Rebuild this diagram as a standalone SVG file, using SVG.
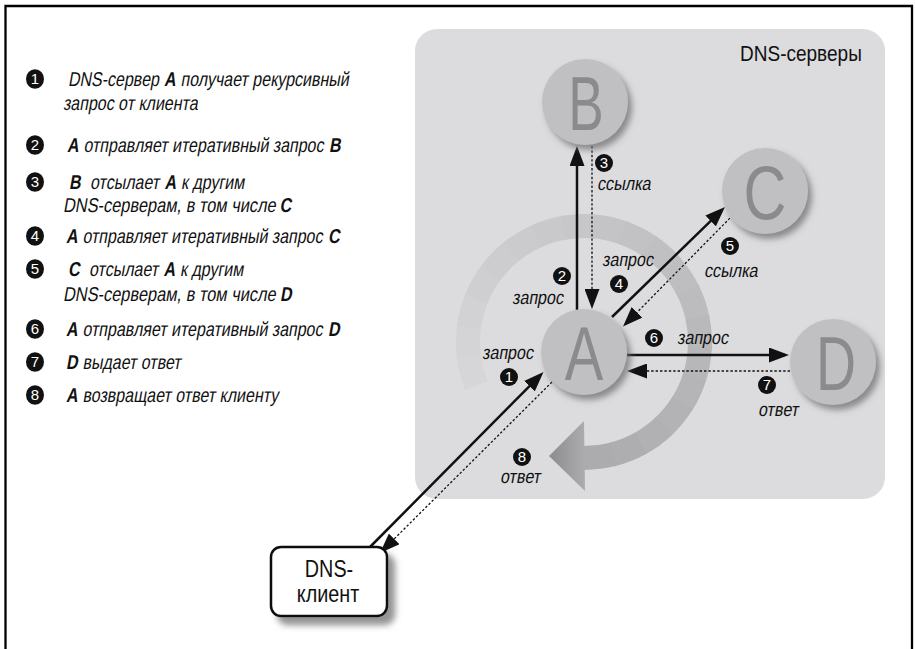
<svg xmlns="http://www.w3.org/2000/svg" width="915" height="649" viewBox="0 0 915 649">
  <style>
    .t { font-family: "Liberation Sans", Arial, sans-serif; fill: #111; }
    .li { font-size: 20px; }
    .lb { font-size: 19px; }
    .b { font-weight: bold; }
    .num { font-family: "Liberation Sans", Arial, sans-serif; font-size: 15px; fill: #fff; text-anchor: middle; }
    .badge { fill: #111; }
    .big { font-family: "Liberation Sans", Arial, sans-serif; font-size: 76px; fill: #8b8b8d; text-anchor: middle; }
    .node { fill: #c0c0c2; }
    .solid { stroke: #111; stroke-width: 2.5; fill: none; }
    .dot { stroke: #111; stroke-width: 1.3; stroke-dasharray: 2.4 2; fill: none; }
    .ring { fill: none; stroke-width: 24; }
  </style>
  <defs>
    <marker id="head" markerUnits="userSpaceOnUse" markerWidth="20" markerHeight="15" refX="16" refY="7.5" orient="auto">
      <path d="M0,0 L20,7.5 L0,15 Z" fill="#111"/>
    </marker>
    <filter id="nodeShadow" x="-30%" y="-30%" width="170%" height="170%">
      <feGaussianBlur in="SourceAlpha" stdDeviation="3"/>
      <feOffset dx="4" dy="5" result="off"/>
      <feFlood flood-color="#6e6e70" flood-opacity="0.75"/>
      <feComposite in2="off" operator="in"/>
      <feMerge><feMergeNode/><feMergeNode in="SourceGraphic"/></feMerge>
    </filter>
    <filter id="boxShadow" x="-20%" y="-20%" width="150%" height="160%">
      <feGaussianBlur in="SourceAlpha" stdDeviation="3"/>
      <feOffset dx="7" dy="8" result="off"/>
      <feFlood flood-color="#7a7a7a" flood-opacity="0.8"/>
      <feComposite in2="off" operator="in"/>
      <feMerge><feMergeNode/><feMergeNode in="SourceGraphic"/></feMerge>
    </filter>
    <linearGradient id="headGrad" x1="549" y1="0" x2="586" y2="0" gradientUnits="userSpaceOnUse">
      <stop offset="0" stop-color="#8c8c8e"/>
      <stop offset="1" stop-color="#adadaf"/>
    </linearGradient>
  </defs>

  <!-- page frame (open at the bottom) -->
  <path d="M5.5,649 V6 H912 V649" fill="none" stroke="#000" stroke-width="2.3"/>

  <!-- legend: numbered steps; oblique condensed runs (upright glyphs, skewed and narrowed) -->
  <g id="legend">
    <g id="step1">
      <ellipse class="badge" cx="35" cy="79" rx="9" ry="9.8"/><text class="num" x="35" y="84.3">1</text>
      <text class="t li" transform="translate(68,86) skewX(-10) scale(0.8,1)">DNS-сервер</text>
      <text class="t li b" transform="translate(164,86) skewX(-10) scale(0.8,1)">A</text>
      <text class="t li" transform="translate(180.5,86) skewX(-10) scale(0.8,1)">получает рекурсивный</text>
      <text class="t li" transform="translate(63,110) skewX(-10) scale(0.8,1)">запрос от клиента</text>
    </g>
    <g id="step2">
      <ellipse class="badge" cx="35" cy="145" rx="9" ry="9.8"/><text class="num" x="35" y="150.3">2</text>
      <text class="t li b" transform="translate(67,152) skewX(-10) scale(0.8,1)">A</text>
      <text class="t li" transform="translate(83.5,152) skewX(-10) scale(0.8,1)">отправляет итеративный запрос</text>
      <text class="t li b" transform="translate(329,152) skewX(-10) scale(0.8,1)">B</text>
    </g>
    <g id="step3">
      <ellipse class="badge" cx="35" cy="182" rx="9" ry="9.8"/><text class="num" x="35" y="187.3">3</text>
      <text class="t li b" transform="translate(69,189) skewX(-10) scale(0.8,1)">B</text>
      <text class="t li" transform="translate(90,189) skewX(-10) scale(0.8,1)">отсылает</text>
      <text class="t li b" transform="translate(164.5,189) skewX(-10) scale(0.8,1)">A</text>
      <text class="t li" transform="translate(181,189) skewX(-10) scale(0.8,1)">к другим</text>
      <text class="t li" transform="translate(63,212) skewX(-10) scale(0.82,1)">DNS-серверам, в том числе</text>
      <text class="t li b" transform="translate(279.5,212) skewX(-10) scale(0.8,1)">C</text>
    </g>
    <g id="step4">
      <ellipse class="badge" cx="35" cy="236" rx="9" ry="9.8"/><text class="num" x="35" y="241.3">4</text>
      <text class="t li b" transform="translate(66,243) skewX(-10) scale(0.8,1)">A</text>
      <text class="t li" transform="translate(82.5,243) skewX(-10) scale(0.8,1)">отправляет итеративный запрос</text>
      <text class="t li b" transform="translate(328,243) skewX(-10) scale(0.8,1)">C</text>
    </g>
    <g id="step5">
      <ellipse class="badge" cx="35" cy="269" rx="9" ry="9.8"/><text class="num" x="35" y="274.3">5</text>
      <text class="t li b" transform="translate(68,276) skewX(-10) scale(0.8,1)">C</text>
      <text class="t li" transform="translate(89,276) skewX(-10) scale(0.8,1)">отсылает</text>
      <text class="t li b" transform="translate(163.5,276) skewX(-10) scale(0.8,1)">A</text>
      <text class="t li" transform="translate(180,276) skewX(-10) scale(0.8,1)">к другим</text>
      <text class="t li" transform="translate(63,301) skewX(-10) scale(0.82,1)">DNS-серверам, в том числе</text>
      <text class="t li b" transform="translate(280,301) skewX(-10) scale(0.8,1)">D</text>
    </g>
    <g id="step6">
      <ellipse class="badge" cx="35" cy="329" rx="9" ry="9.8"/><text class="num" x="35" y="334.3">6</text>
      <text class="t li b" transform="translate(66,336) skewX(-10) scale(0.8,1)">A</text>
      <text class="t li" transform="translate(82.5,336) skewX(-10) scale(0.8,1)">отправляет итеративный запрос</text>
      <text class="t li b" transform="translate(328,336) skewX(-10) scale(0.8,1)">D</text>
    </g>
    <g id="step7">
      <ellipse class="badge" cx="35" cy="362" rx="9" ry="9.8"/><text class="num" x="35" y="367.3">7</text>
      <text class="t li b" transform="translate(66,369) skewX(-10) scale(0.8,1)">D</text>
      <text class="t li" transform="translate(82.5,369) skewX(-10) scale(0.8,1)">выдает ответ</text>
    </g>
    <g id="step8">
      <ellipse class="badge" cx="35" cy="395" rx="9" ry="9.8"/><text class="num" x="35" y="400.3">8</text>
      <text class="t li b" transform="translate(66,402) skewX(-10) scale(0.8,1)">A</text>
      <text class="t li" transform="translate(82.5,402) skewX(-10) scale(0.8,1)">возвращает ответ клиенту</text>
    </g>
  </g>

  <!-- server area -->
  <g id="servers-area">
    <rect x="415" y="29" width="470" height="470" rx="22" fill="#dcdcde"/>
    <text class="t" font-size="22" transform="translate(740,61) scale(0.865,1)">DNS-серверы</text>
  </g>

  <!-- recursion cycle: a shaded ring around A ending in a wide arrowhead -->
  <g id="cycle">
    <g class="ring">
      <circle cx="584" cy="342" r="116" pathLength="360" stroke="#d6d6d8" stroke-dasharray="15.6 344.4" stroke-dashoffset="-158"/>
      <circle cx="584" cy="342" r="116" pathLength="360" stroke="#d4d4d6" stroke-dasharray="15.6 344.4" stroke-dashoffset="-172.6"/>
      <circle cx="584" cy="342" r="116" pathLength="360" stroke="#d2d2d4" stroke-dasharray="15.6 344.4" stroke-dashoffset="-187.2"/>
      <circle cx="584" cy="342" r="116" pathLength="360" stroke="#cfcfd1" stroke-dasharray="15.6 344.4" stroke-dashoffset="-201.8"/>
      <circle cx="584" cy="342" r="116" pathLength="360" stroke="#cdcdcf" stroke-dasharray="15.6 344.4" stroke-dashoffset="-216.4"/>
      <circle cx="584" cy="342" r="116" pathLength="360" stroke="#cbcbcd" stroke-dasharray="15.6 344.4" stroke-dashoffset="-231"/>
      <circle cx="584" cy="342" r="116" pathLength="360" stroke="#c9c9cb" stroke-dasharray="15.6 344.4" stroke-dashoffset="-245.6"/>
      <circle cx="584" cy="342" r="116" pathLength="360" stroke="#c7c7c9" stroke-dasharray="15.6 344.4" stroke-dashoffset="-260.2"/>
      <circle cx="584" cy="342" r="116" pathLength="360" stroke="#c4c4c6" stroke-dasharray="15.6 344.4" stroke-dashoffset="-274.8"/>
      <circle cx="584" cy="342" r="116" pathLength="360" stroke="#c2c2c4" stroke-dasharray="15.6 344.4" stroke-dashoffset="-289.4"/>
      <circle cx="584" cy="342" r="116" pathLength="360" stroke="#c0c0c2" stroke-dasharray="15.6 344.4" stroke-dashoffset="-304"/>
      <circle cx="584" cy="342" r="116" pathLength="360" stroke="#bebec0" stroke-dasharray="15.6 344.4" stroke-dashoffset="-318.6"/>
      <circle cx="584" cy="342" r="116" pathLength="360" stroke="#bcbcbe" stroke-dasharray="15.6 344.4" stroke-dashoffset="-333.2"/>
      <circle cx="584" cy="342" r="116" pathLength="360" stroke="#b9b9bb" stroke-dasharray="15.6 344.4" stroke-dashoffset="-347.8"/>
      <circle cx="584" cy="342" r="116" pathLength="360" stroke="#b7b7b9" stroke-dasharray="15.6 344.4" stroke-dashoffset="-2.4"/>
      <circle cx="584" cy="342" r="116" pathLength="360" stroke="#b5b5b7" stroke-dasharray="15.6 344.4" stroke-dashoffset="-17"/>
      <circle cx="584" cy="342" r="116" pathLength="360" stroke="#b3b3b5" stroke-dasharray="15.6 344.4" stroke-dashoffset="-31.6"/>
      <circle cx="584" cy="342" r="116" pathLength="360" stroke="#b1b1b3" stroke-dasharray="15.6 344.4" stroke-dashoffset="-46.2"/>
      <circle cx="584" cy="342" r="116" pathLength="360" stroke="#aeaeb0" stroke-dasharray="15.6 344.4" stroke-dashoffset="-60.8"/>
      <circle cx="584" cy="342" r="116" pathLength="360" stroke="#acacae" stroke-dasharray="14.6 345.4" stroke-dashoffset="-75.4"/>
    </g>
    <polygon points="584,421 585,491 549,456" fill="url(#headGrad)"/>
  </g>

  <!-- connectors -->
  <g id="connectors">
    <line class="solid" x1="370" y1="547" x2="540.7" y2="374.8" marker-end="url(#head)"/>
    <line class="dot" x1="552" y1="382" x2="382.8" y2="550.2" marker-end="url(#head)"/>
    <line class="solid" x1="577" y1="310" x2="577" y2="150" marker-end="url(#head)"/>
    <line class="dot" x1="592" y1="146" x2="592" y2="305" marker-end="url(#head)"/>
    <line class="solid" x1="612" y1="317" x2="722.1" y2="209.8" marker-end="url(#head)"/>
    <line class="dot" x1="733" y1="215" x2="625.8" y2="323.7" marker-end="url(#head)"/>
    <line class="solid" x1="627" y1="355" x2="785" y2="355" marker-end="url(#head)"/>
    <line class="dot" x1="790" y1="371" x2="631" y2="371" marker-end="url(#head)"/>
  </g>

  <!-- servers -->
  <g id="node-B">
    <circle class="node" cx="585" cy="102" r="43" filter="url(#nodeShadow)"/>
    <text class="big" transform="translate(586,130) scale(0.7,1)">B</text>
  </g>
  <g id="node-C">
    <circle class="node" cx="765" cy="191" r="43" filter="url(#nodeShadow)"/>
    <text class="big" transform="translate(765,219) scale(0.78,1)">C</text>
  </g>
  <g id="node-A">
    <circle class="node" cx="584" cy="352" r="43" filter="url(#nodeShadow)"/>
    <text class="big" transform="translate(584,380) scale(0.76,1)">A</text>
  </g>
  <g id="node-D">
    <circle class="node" cx="833" cy="362" r="43" filter="url(#nodeShadow)"/>
    <text class="big" transform="translate(836,390) scale(0.73,1)">D</text>
  </g>

  <!-- client -->
  <g id="node-client">
    <rect x="271" y="547" width="116" height="69" rx="10" fill="#fff" stroke="#111" stroke-width="2.5" filter="url(#boxShadow)"/>
    <text class="t" font-size="23" text-anchor="middle" transform="translate(329,577) scale(0.86,1)">DNS-</text>
    <text class="t" font-size="23" text-anchor="middle" transform="translate(328,602) scale(0.86,1)">клиент</text>
  </g>

  <!-- connector labels -->
  <g id="labels">
    <text class="t lb" transform="translate(482,359) skewX(-10) scale(0.85,1)">запрос</text>
    <circle class="badge" cx="509" cy="377" r="9"/><text class="num" x="509" y="382.3">1</text>

    <circle class="badge" cx="562" cy="276" r="9"/><text class="num" x="562" y="281.3">2</text>
    <text class="t lb" transform="translate(512,304) skewX(-10) scale(0.85,1)">запрос</text>

    <circle class="badge" cx="604" cy="163" r="9"/><text class="num" x="604" y="168.3">3</text>
    <text class="t lb" transform="translate(597,190) skewX(-10) scale(0.85,1)">ссылка</text>

    <text class="t lb" transform="translate(602,266) skewX(-10) scale(0.85,1)">запрос</text>
    <circle class="badge" cx="619" cy="284" r="9"/><text class="num" x="619" y="289.3">4</text>

    <circle class="badge" cx="730" cy="246" r="9"/><text class="num" x="730" y="251.3">5</text>
    <text class="t lb" transform="translate(704,277) skewX(-10) scale(0.85,1)">ссылка</text>

    <circle class="badge" cx="654" cy="338" r="9"/><text class="num" x="654" y="343.3">6</text>
    <text class="t lb" transform="translate(677,344) skewX(-10) scale(0.85,1)">запрос</text>

    <circle class="badge" cx="767" cy="385" r="9"/><text class="num" x="767" y="390.3">7</text>
    <text class="t lb" transform="translate(758,416) skewX(-10) scale(0.85,1)">ответ</text>

    <circle class="badge" cx="522" cy="457" r="9"/><text class="num" x="522" y="462.3">8</text>
    <text class="t lb" transform="translate(500,483) skewX(-10) scale(0.85,1)">ответ</text>
  </g>
</svg>
